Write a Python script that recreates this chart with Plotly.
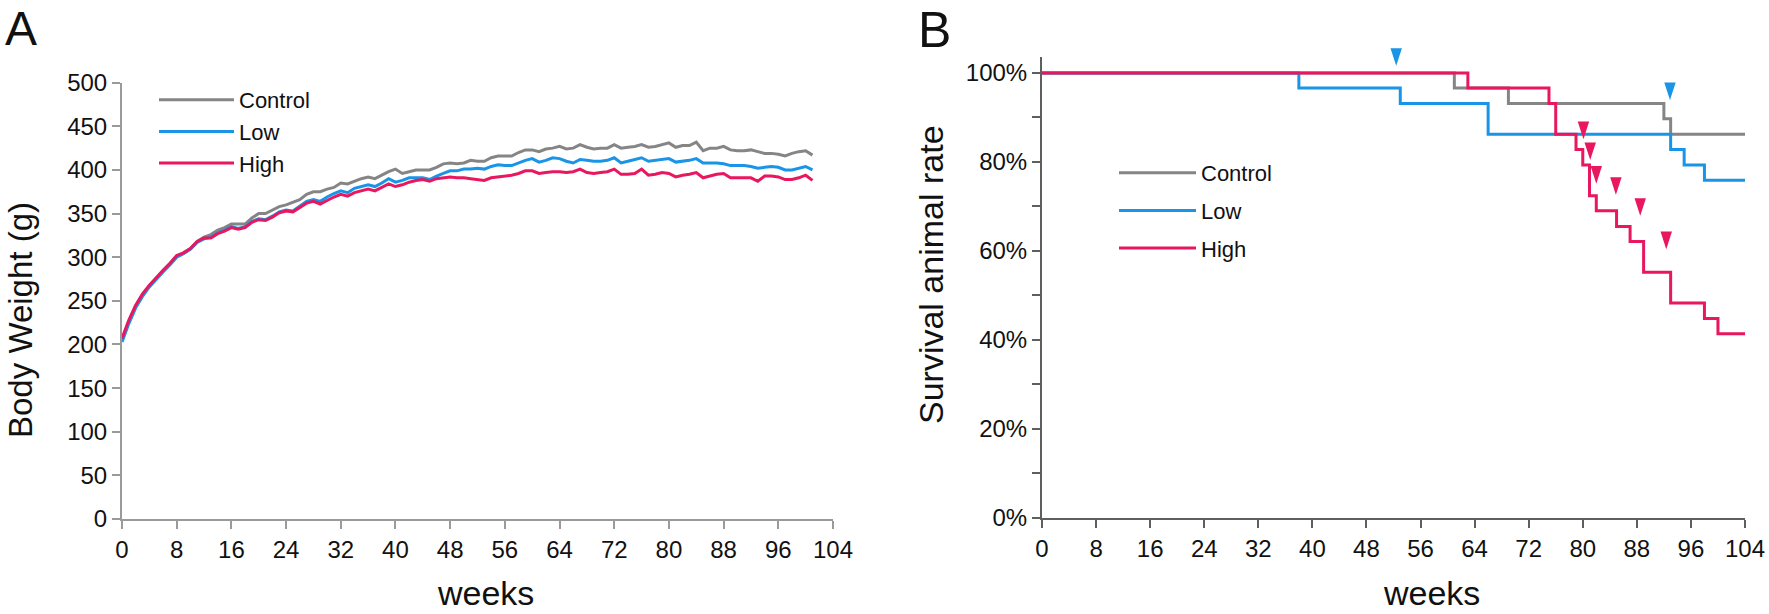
import plotly.graph_objects as go

# ---------------- Panel A: body weight ----------------
weeks_a = list(range(0, 102))
control_bw = [204, 226, 244, 257, 267, 276, 284, 292, 301, 305, 310, 318, 323, 326, 331, 334, 338, 338, 338, 345,
              350, 350, 354, 358, 360, 363, 366, 372, 375, 375, 378, 380, 385, 384, 387, 390, 392, 390, 394, 398,
              401, 396, 398, 400, 400, 400, 403, 407, 408, 407, 408, 411, 410, 410, 414, 416, 416, 416, 420, 423,
              423, 421, 424, 425, 427, 424, 425, 429, 426, 424, 425, 425, 429, 425, 426, 427, 429, 426, 427, 429,
              431, 426, 428, 428, 432, 422, 425, 425, 427, 423, 422, 422, 423, 421, 419, 419, 418, 416, 419, 421,
              422, 417]
low_bw = [203, 224, 242, 255, 266, 275, 283, 291, 300, 304, 309, 317, 321, 323, 328, 331, 335, 333, 335, 341,
          344, 343, 347, 352, 354, 353, 358, 364, 366, 364, 369, 373, 376, 374, 379, 381, 383, 381, 385, 390,
          386, 388, 391, 391, 391, 389, 393, 396, 399, 399, 401, 401, 402, 401, 404, 406, 405, 405, 408, 411,
          413, 409, 411, 414, 413, 410, 408, 412, 411, 410, 410, 411, 414, 408, 410, 412, 414, 410, 411, 412,
          413, 409, 410, 411, 413, 408, 408, 408, 407, 405, 405, 405, 404, 402, 403, 404, 403, 400, 400, 402,
          404, 400]
high_bw = [207, 228, 245, 258, 268, 277, 285, 293, 302, 305, 310, 318, 322, 322, 327, 330, 334, 332, 334, 340,
           343, 342, 346, 351, 353, 352, 357, 362, 364, 361, 365, 369, 372, 370, 374, 376, 378, 376, 380, 384,
           381, 383, 386, 388, 389, 387, 390, 391, 392, 391, 391, 390, 389, 388, 391, 392, 393, 394, 396, 399,
           399, 396, 397, 398, 398, 397, 398, 401, 397, 396, 397, 398, 401, 395, 395, 396, 401, 394, 395, 397,
           396, 392, 394, 395, 397, 391, 393, 395, 396, 391, 391, 391, 391, 387, 393, 393, 392, 389, 389, 391,
           394, 388]

# ---------------- Panel B: survival (Kaplan-Meier) ----------------
control_t = [0, 61, 69, 92, 93, 104]
control_s = [100, 96.6, 93.1, 89.7, 86.2, 86.2]
low_t = [0, 38, 53, 66, 93, 95, 98, 104]
low_s = [100, 96.6, 93.1, 86.2, 82.8, 79.3, 75.9, 75.9]
high_t = [0, 63, 75, 76, 79, 80, 81, 82, 85, 87, 89, 93, 98, 100, 104]
high_s = [100, 96.6, 93.1, 86.2, 82.8, 79.3, 72.4, 69.0, 65.5, 62.1, 55.2, 48.3, 44.8, 41.4, 41.4]

# arrowhead markers (tip positions)
low_mark_t = [52.4, 92.9]
low_mark_s = [101.6, 93.9]
high_mark_t = [80.1, 81.1, 82.0, 84.9, 88.5, 92.35]
high_mark_s = [85.1, 80.4, 75.1, 72.6, 67.9, 60.4]

x_ticks = list(range(0, 105, 8))
a_y_ticks = list(range(0, 501, 50))
b_y_ticks = list(range(0, 101, 10))
b_y_labels = [f"{v}%" if v % 20 == 0 else "" for v in b_y_ticks]

names = ["Control", "Low", "High"]
colors = {"Control": "#858585", "Low": "#1994e6", "High": "#e8175f"}

W, H = 1769, 614
FONT = "Liberation Sans, Arial, sans-serif"

fig = go.Figure()

for i, (name, ys) in enumerate(zip(names, [control_bw, low_bw, high_bw])):
    fig.add_trace(go.Scatter(x=weeks_a, y=ys, mode="lines", name=name,
                             line=dict(color=colors[name], width=3), legendgroup=f"a{i}",
                             xaxis="x", yaxis="y", legend="legend"))

for i, (name, ts, ss) in enumerate(zip(names, [control_t, low_t, high_t], [control_s, low_s, high_s])):
    fig.add_trace(go.Scatter(x=ts, y=ss, mode="lines", name=name, line_shape="hv",
                             line=dict(color=colors[name], width=3), legendgroup=f"b{i}",
                             xaxis="x2", yaxis="y2", legend="legend2"))

for name, ts, ss in [("Low", low_mark_t, low_mark_s), ("High", high_mark_t, high_mark_s)]:
    fig.add_trace(go.Scatter(x=ts, y=ss, mode="markers", showlegend=False, cliponaxis=False,
                             marker=dict(symbol="arrow", angle=180, size=18.5, color=colors[name],
                                         line=dict(width=0)),
                             xaxis="x2", yaxis="y2"))

def px_x(p):
    return p / W

def px_y(p):
    return 1 - p / H

tickfont = dict(family=FONT, size=24, color="#111")
common = dict(showgrid=False, zeroline=False, showline=True, linewidth=2, ticks="outside",
              ticklen=8, tickwidth=2, tickfont=tickfont, automargin=False)
fig.update_layout(
    width=W, height=H, margin=dict(l=0, r=0, t=0, b=0, autoexpand=False),
    paper_bgcolor="white", plot_bgcolor="white",
    font=dict(family=FONT, color="#111"),
    xaxis=dict(domain=[px_x(122), px_x(833)], range=[0, 104], tickvals=x_ticks,
               linecolor="#9a9a9a", tickcolor="#9a9a9a", anchor="y", **common),
    yaxis=dict(domain=[px_y(519), px_y(82.7)], range=[0, 500], tickvals=a_y_ticks,
               linecolor="#9a9a9a", tickcolor="#9a9a9a", anchor="x", **common),
    xaxis2=dict(domain=[px_x(1042), px_x(1745)], range=[0, 104], tickvals=x_ticks,
                linecolor="#5f5f5f", tickcolor="#5f5f5f", anchor="y2", **common),
    yaxis2=dict(domain=[px_y(518), px_y(57.3)], range=[0, 103.5], tickvals=b_y_ticks,
                ticktext=b_y_labels, linecolor="#5f5f5f", tickcolor="#5f5f5f", anchor="x2", **common),
    legend=dict(x=px_x(154), y=px_y(79), xanchor="left", yanchor="top",
                font=dict(family=FONT, size=22, color="#111"), itemwidth=75,
                bgcolor="rgba(0,0,0,0)", tracegroupgap=0),
    legend2=dict(x=px_x(1114), y=px_y(152), xanchor="left", yanchor="top",
                 font=dict(family=FONT, size=22, color="#111"), itemwidth=77,
                 bgcolor="rgba(0,0,0,0)", tracegroupgap=6),
    showlegend=True,
)

annos = [
    dict(text="A", x=px_x(3), y=1, xanchor="left", yanchor="top", font=dict(size=48)),
    dict(text="B", x=px_x(916), y=1, xanchor="left", yanchor="top", font=dict(size=50)),
    dict(text="Body Weight (g)", x=0, y=px_y(320.5), textangle=-90,
         xanchor="left", yanchor="middle", font=dict(size=33)),
    dict(text="Survival animal rate", x=px_x(930.5), y=px_y(274.5), textangle=-90,
         xanchor="center", yanchor="middle", font=dict(size=34)),
    dict(text="weeks", x=px_x(485.5), y=0, xanchor="center", yanchor="bottom",
         font=dict(size=34)),
    dict(text="weeks", x=px_x(1431), y=0, xanchor="center", yanchor="bottom",
         font=dict(size=34)),
]
for a in annos:
    a.update(xref="paper", yref="paper", showarrow=False)
    a["font"].update(family=FONT, color="#111")
    fig.add_annotation(**a)

fig.write_html("out.html", config={"displayModeBar": False},
               post_script="document.body.style.margin='0';document.body.style.overflow='hidden';")
